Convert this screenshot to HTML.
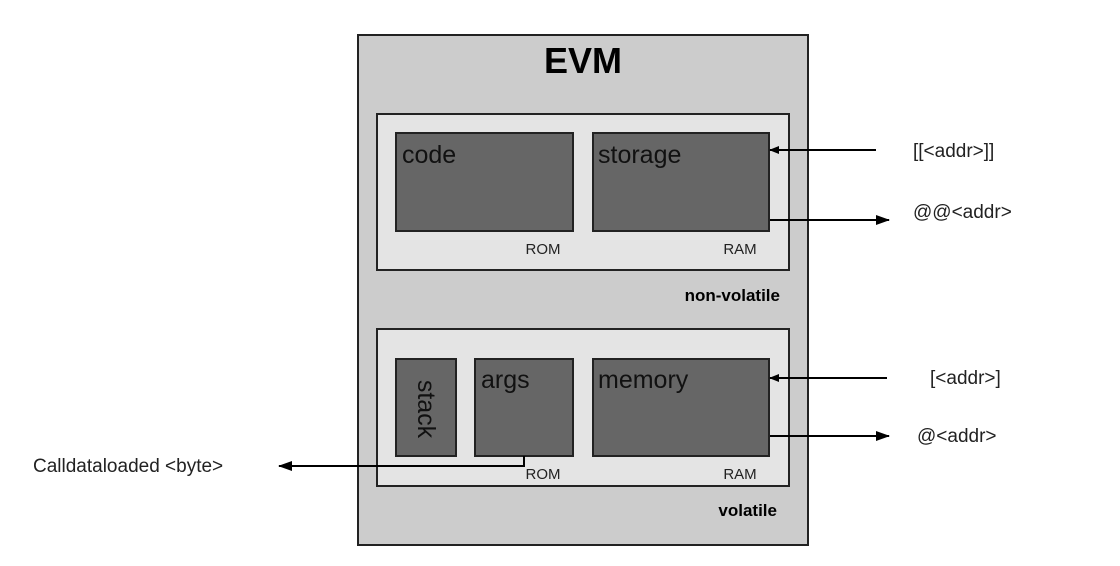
<!DOCTYPE html>
<html><head><meta charset="utf-8"><style>
html,body{margin:0;padding:0;background:#fff;}
svg{display:block;font-family:"Liberation Sans",Arial,sans-serif;}
</style></head><body>
<svg width="1120" height="566" viewBox="0 0 1120 566" xmlns="http://www.w3.org/2000/svg">
<defs>
<marker id="ah" markerWidth="10" markerHeight="8" refX="9" refY="4" orient="auto" markerUnits="userSpaceOnUse">
<path d="M0,0 L10,4 L0,8 z" fill="#000"/>
</marker>
<marker id="ahb" markerWidth="14" markerHeight="10" refX="13" refY="5" orient="auto" markerUnits="userSpaceOnUse">
<path d="M0,0 L14,5 L0,10 z" fill="#000"/>
</marker>
</defs>
<rect x="358" y="35" width="450" height="510" fill="#cccccc" stroke="#222" stroke-width="2"/>
<text x="583" y="73" text-anchor="middle" font-size="36" font-weight="bold">EVM</text>

<rect x="377" y="114" width="412" height="156" fill="#e4e4e4" stroke="#222" stroke-width="2"/>
<rect x="396" y="133" width="177" height="98" fill="#666" stroke="#222" stroke-width="2"/>
<rect x="593" y="133" width="176" height="98" fill="#666" stroke="#222" stroke-width="2"/>
<text x="402" y="163" font-size="25" fill="#111">code</text>
<text x="598" y="163" font-size="25" fill="#111">storage</text>
<text x="543" y="254" font-size="15" text-anchor="middle" fill="#222">ROM</text>
<text x="740" y="254" font-size="15" text-anchor="middle" fill="#222">RAM</text>
<text x="780" y="301" font-size="17" font-weight="bold" text-anchor="end">non-volatile</text>

<rect x="377" y="329" width="412" height="157" fill="#e4e4e4" stroke="#222" stroke-width="2"/>
<rect x="396" y="359" width="60" height="97" fill="#666" stroke="#222" stroke-width="2"/>
<rect x="475" y="359" width="98" height="97" fill="#666" stroke="#222" stroke-width="2"/>
<rect x="593" y="359" width="176" height="97" fill="#666" stroke="#222" stroke-width="2"/>
<text transform="translate(418,409) rotate(90)" font-size="25" text-anchor="middle" fill="#111">stack</text>
<text x="481" y="388" font-size="25" fill="#111">args</text>
<text x="598" y="388" font-size="25" fill="#111">memory</text>
<text x="543" y="479" font-size="15" text-anchor="middle" fill="#222">ROM</text>
<text x="740" y="479" font-size="15" text-anchor="middle" fill="#222">RAM</text>
<text x="777" y="516" font-size="17" font-weight="bold" text-anchor="end">volatile</text>

<line x1="876" y1="150" x2="770" y2="150" stroke="#000" stroke-width="2" marker-end="url(#ah)"/>
<line x1="770" y1="220" x2="889" y2="220" stroke="#000" stroke-width="2" marker-end="url(#ahb)"/>
<line x1="887" y1="378" x2="770" y2="378" stroke="#000" stroke-width="2" marker-end="url(#ah)"/>
<line x1="770" y1="436" x2="889" y2="436" stroke="#000" stroke-width="2" marker-end="url(#ahb)"/>
<polyline points="524,456 524,466 279,466" fill="none" stroke="#000" stroke-width="2" marker-end="url(#ahb)"/>

<text x="913" y="157" font-size="19" fill="#222">[[&lt;addr&gt;]]</text>
<text x="913" y="218" font-size="19" fill="#222">@@&lt;addr&gt;</text>
<text x="930" y="384" font-size="19" fill="#222">[&lt;addr&gt;]</text>
<text x="917" y="442" font-size="19" fill="#222">@&lt;addr&gt;</text>
<text x="33" y="472" font-size="19" fill="#222">Calldataloaded &lt;byte&gt;</text>
</svg>
</body></html>
